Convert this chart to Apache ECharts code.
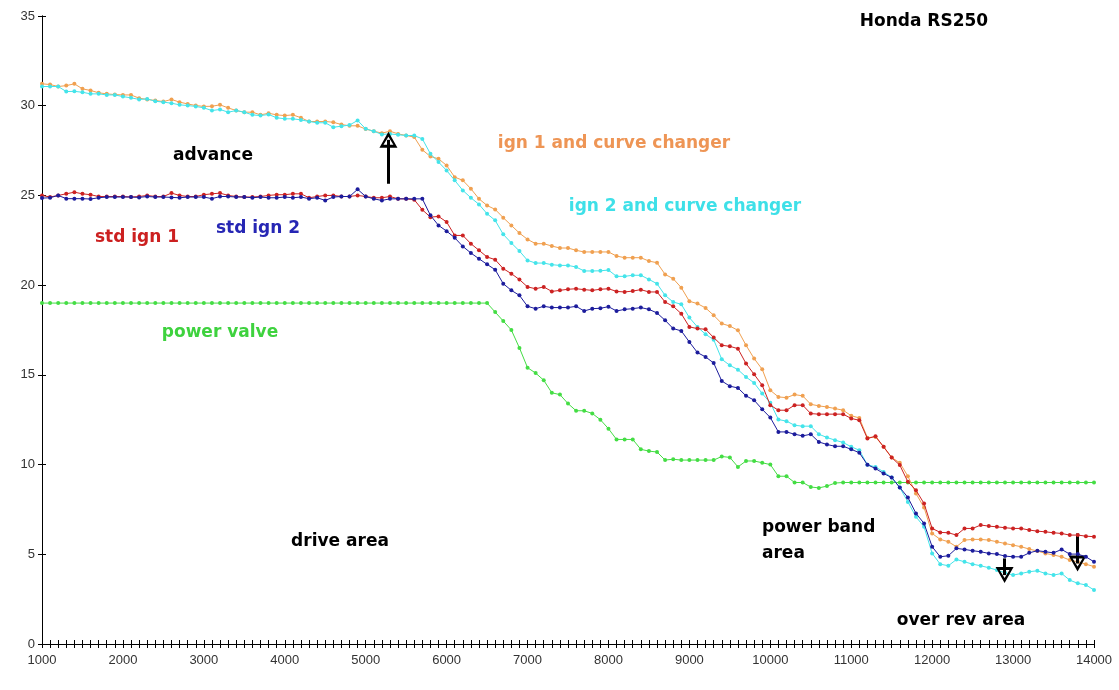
<!DOCTYPE html>
<html>
<head>
<meta charset="utf-8">
<script src="https://cdn.jsdelivr.net/npm/echarts@6/dist/echarts.min.js"></script>
<style>html,body{margin:0;padding:0;background:#fff;}#c{width:1119px;height:690px;}</style>
</head>
<body>
<div id="c"></div>
<script>
var rpm = [1000,1100,1200,1300,1400,1500,1600,1700,1800,1900,2000,2100,2200,2300,2400,2500,2600,2700,2800,2900,
3000,3100,3200,3300,3400,3500,3600,3700,3800,3900,4000,4100,4200,4300,4400,4500,4600,4700,4800,4900,
5000,5100,5200,5300,5400,5500,5600,5700,5800,5900,6000,6100,6200,6300,6400,6500,6600,6700,6800,6900,
7000,7100,7200,7300,7400,7500,7600,7700,7800,7900,8000,8100,8200,8300,8400,8500,8600,8700,8800,8900,
9000,9100,9200,9300,9400,9500,9600,9700,9800,9900,10000,10100,10200,10300,10400,10500,10600,10700,10800,10900,
11000,11100,11200,11300,11400,11500,11600,11700,11800,11900,12000,12100,12200,12300,12400,12500,12600,12700,12800,12900,
13000,13100,13200,13300,13400,13500,13600,13700,13800,13900,14000];

var ign1Curve = [31.22,31.18,31.07,31.12,31.22,30.94,30.85,30.72,30.66,30.62,30.6,30.6,30.42,30.35,30.29,30.23,30.35,30.2,30.1,30.01,
29.96,29.97,30.05,29.88,29.73,29.64,29.64,29.49,29.58,29.49,29.45,29.49,29.33,29.12,29.12,29.12,29.08,28.95,28.88,28.88,
28.7,28.58,28.47,28.58,28.43,28.34,28.25,27.54,27.17,27.04,26.67,26.02,25.84,25.37,24.81,24.44,24.22,23.76,23.33,22.9,
22.55,22.31,22.31,22.18,22.07,22.07,21.94,21.85,21.85,21.85,21.85,21.62,21.53,21.53,21.53,21.34,21.25,20.6,20.36,19.86,
19.1,18.97,18.73,18.32,17.86,17.72,17.48,16.65,15.91,15.31,14.14,13.77,13.73,13.9,13.83,13.36,13.27,13.21,13.12,13.03,
12.72,12.6,11.5,11.54,10.99,10.39,10.1,9.35,8.39,7.61,6.16,5.83,5.7,5.42,5.79,5.83,5.83,5.79,5.7,5.6,
5.51,5.42,5.29,5.18,5.05,4.96,4.86,4.68,4.58,4.45,4.31];

var ign2Curve = [31.07,31.07,31.07,30.79,30.8,30.75,30.66,30.66,30.6,30.6,30.51,30.44,30.35,30.38,30.25,30.2,30.14,30.05,30.01,29.96,
29.88,29.73,29.79,29.64,29.73,29.64,29.49,29.45,29.51,29.33,29.27,29.27,29.21,29.12,29.05,29.05,28.8,28.86,28.92,29.18,
28.71,28.58,28.4,28.43,28.38,28.34,28.34,28.15,27.32,26.86,26.39,25.84,25.28,24.87,24.5,23.98,23.61,22.83,22.35,21.9,
21.38,21.23,21.23,21.14,21.1,21.1,21.01,20.79,20.79,20.8,20.84,20.49,20.49,20.55,20.55,20.32,20.08,19.43,19.06,18.93,
18.19,17.67,17.26,16.96,15.87,15.53,15.29,14.88,14.55,13.96,13.44,12.51,12.42,12.19,12.14,12.14,11.69,11.51,11.36,11.23,
10.99,10.8,9.99,9.87,9.59,9.28,8.72,7.92,7.09,6.53,5.05,4.45,4.36,4.71,4.58,4.45,4.36,4.25,4.12,3.97,
3.84,3.93,4.03,4.08,3.93,3.84,3.93,3.56,3.38,3.29,3.01];

var stdIgn1 = [25.0,24.91,25.0,25.09,25.18,25.09,25.04,24.94,24.94,24.94,24.94,24.91,24.94,25.0,24.94,24.94,25.13,25.0,24.94,24.94,
25.04,25.09,25.13,25.0,24.94,24.91,24.91,24.94,25.0,25.04,25.04,25.09,25.09,24.87,24.94,25.0,25.0,24.94,24.94,25.0,
24.94,24.87,24.87,24.94,24.81,24.81,24.76,24.2,23.79,23.83,23.52,22.77,22.77,22.31,21.94,21.57,21.42,20.92,20.64,20.31,
19.9,19.8,19.9,19.65,19.71,19.77,19.8,19.75,19.71,19.77,19.8,19.65,19.62,19.67,19.75,19.62,19.62,19.06,18.82,18.41,
17.67,17.58,17.54,17.08,16.65,16.59,16.46,15.63,15.03,14.42,13.31,13.03,13.03,13.31,13.31,12.84,12.81,12.81,12.81,12.81,
12.57,12.47,11.45,11.58,10.99,10.39,9.97,9.04,8.57,7.83,6.44,6.22,6.2,6.07,6.44,6.44,6.63,6.57,6.53,6.48,
6.44,6.44,6.35,6.29,6.25,6.2,6.16,6.07,6.07,6.01,5.98];

var stdIgn2 = [24.85,24.87,25.0,24.82,24.82,24.82,24.8,24.87,24.91,24.91,24.91,24.91,24.89,24.94,24.91,24.91,24.89,24.87,24.91,24.91,
24.91,24.82,24.94,24.94,24.91,24.91,24.87,24.91,24.87,24.87,24.91,24.87,24.91,24.82,24.87,24.72,24.91,24.94,24.94,25.34,
24.94,24.81,24.72,24.81,24.81,24.81,24.81,24.81,23.89,23.33,23.01,22.64,22.16,21.79,21.47,21.16,20.86,20.08,19.71,19.43,
18.82,18.69,18.82,18.75,18.75,18.75,18.82,18.56,18.69,18.71,18.8,18.56,18.65,18.69,18.75,18.65,18.45,18.04,17.58,17.45,
16.83,16.24,16.0,15.66,14.66,14.37,14.27,13.83,13.59,13.08,12.62,11.82,11.82,11.69,11.6,11.69,11.26,11.12,11.02,11.02,
10.85,10.66,9.99,9.78,9.5,9.28,8.72,8.17,7.28,6.72,5.42,4.86,4.92,5.33,5.27,5.2,5.14,5.05,5.01,4.9,
4.86,4.86,5.08,5.2,5.14,5.08,5.27,5.01,5.01,4.86,4.58];

var powerValve = [19,19,19,19,19,19,19,19,19,19,19,19,19,19,19,19,19,19,19,19,
19,19,19,19,19,19,19,19,19,19,19,19,19,19,19,19,19,19,19,19,
19,19,19,19,19,19,19,19,19,19,19,19,19,19,19,19,18.5,18.0,17.5,16.5,
15.4,15.1,14.7,14.0,13.9,13.4,13.0,13.0,12.85,12.5,12.0,11.4,11.4,11.4,10.85,10.75,10.7,10.25,10.3,10.25,
10.25,10.25,10.25,10.25,10.45,10.4,9.87,10.2,10.2,10.1,10.0,9.35,9.35,9.0,9.0,8.75,8.7,8.8,8.97,9,
9,9,9,9,9,9,9,9,9,9,9,9,9,9,9,9,9,9,9,9,
9,9,9,9,9,9,9,9,9,9,9];

var xTicks = {min: 1000, max: 14000, step: 1000};
var yTicks = {min: 0, max: 35, step: 5};

// arrows: [rpm, from value, to value]
var arrows = [[5281, 25.65, 28.1], [12895, 4.77, 3.84], [13797, 6.16, 4.49]];

function pairs(vals) { return rpm.map(function (r, i) { return [r, vals[i]]; }); }

var labelFont = 'DejaVu Sans, Verdana, sans-serif';
var chart = echarts.init(document.getElementById('c'), null, {renderer: 'canvas'});

function mkSeries(name, vals, color, z) {
  return {
    name: name, type: 'line', data: pairs(vals), xAxisIndex: 0, yAxisIndex: 0,
    symbol: 'circle', symbolSize: 4, showSymbol: true, z: z,
    lineStyle: {color: color, width: 1}, itemStyle: {color: color},
    emphasis: {disabled: true}, animation: false
  };
}

var hollowArrow = 'path://M0,0 L10,16 L-10,16 Z M0,5 L-5.5,13 L5.5,13 Z';

var series = [
  mkSeries('power valve', powerValve, '#44dd44', 2),
  mkSeries('ign 1 and curve changer', ign1Curve, '#f0a050', 3),
  mkSeries('ign 2 and curve changer', ign2Curve, '#44e4ea', 4),
  mkSeries('std ign 1', stdIgn1, '#cc2222', 5),
  mkSeries('std ign 2', stdIgn2, '#1c1c9c', 6)
];
series[4].markLine = {
  silent: true, animation: false,
  symbol: ['none', hollowArrow], symbolSize: [18, 16],
  label: {show: false},
  lineStyle: {color: '#000', width: 3, type: 'solid'},
  data: arrows.map(function (a) { return [{coord: [a[0], a[1]]}, {coord: [a[0], a[2]]}]; })
};

function plain(v) { return String(v); }

function xAxisDef(inside, labels) {
  return {
    type: 'value', position: 'bottom', min: xTicks.min, max: xTicks.max, interval: xTicks.step,
    axisLine: {show: true, lineStyle: {color: '#000', width: 1}},
    axisTick: {show: true, inside: inside, length: 4, lineStyle: {color: '#000'}},
    minorTick: {show: true, splitNumber: 10, length: 4, lineStyle: {color: '#000'}},
    axisLabel: {show: labels, color: '#333', fontFamily: 'Liberation Sans, Arial, sans-serif', fontSize: 13, margin: 10, formatter: plain},
    splitLine: {show: false}
  };
}
function yAxisDef(inside, labels) {
  return {
    type: 'value', position: 'left', min: yTicks.min, max: yTicks.max, interval: yTicks.step,
    axisLine: {show: true, lineStyle: {color: '#000', width: 1}},
    axisTick: {show: true, inside: inside, length: 4, lineStyle: {color: '#000'}},
    axisLabel: {show: labels, color: '#333', fontFamily: 'Liberation Sans, Arial, sans-serif', fontSize: 13, margin: 7, formatter: plain},
    splitLine: {show: false}
  };
}

function txt(text, x, y, color, align) {
  return {
    type: 'text', x: x, y: y, z: 100, silent: true,
    style: {text: text, fill: color, font: 'bold 17px ' + labelFont, align: align || 'center', verticalAlign: 'middle', lineHeight: 26}
  };
}

chart.setOption({
  animation: false,
  backgroundColor: '#fff',
  grid: {left: 42, right: 25, top: 16, bottom: 46, containLabel: false},
  xAxis: [xAxisDef(false, true), xAxisDef(true, false)],
  yAxis: [yAxisDef(false, true), yAxisDef(true, false)],
  series: series,
  graphic: [
    txt('Honda RS250', 924, 22, '#000'),
    txt('advance', 213, 156, '#000'),
    txt('ign 1 and curve changer', 614, 144, '#ee9555'),
    txt('ign 2 and curve changer', 685, 207, '#3ee0e8'),
    txt('std ign 1', 137, 238, '#cc2020'),
    txt('std ign 2', 258, 229, '#2626b4'),
    txt('power valve', 220, 333, '#3ed23e'),
    txt('drive area', 340, 542, '#000'),
    txt('power band\narea', 762, 541, '#000', 'left'),
    txt('over rev area', 961, 621, '#000')
  ]
});
</script>
</body>
</html>
